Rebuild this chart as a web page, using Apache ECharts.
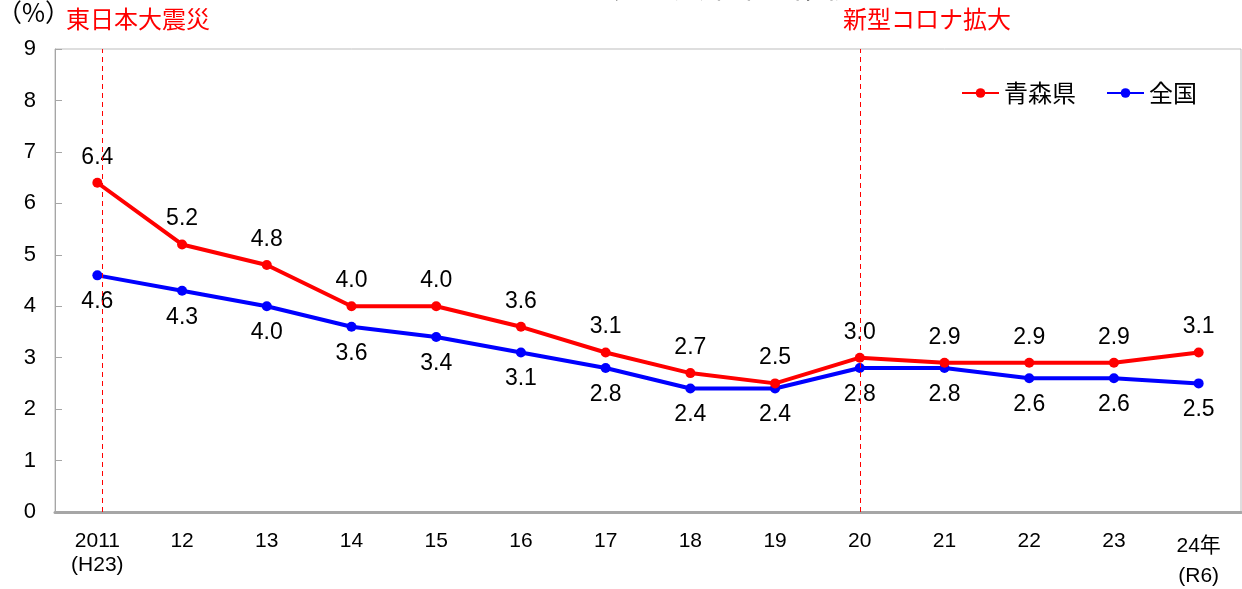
<!DOCTYPE html>
<html><head><meta charset="utf-8">
<script src="https://cdn.jsdelivr.net/npm/echarts@6/dist/echarts.min.js"></script>
<style>html,body{margin:0;padding:0;background:#fff}#c{width:1242px;height:589px}</style>
</head><body><div id="c"></div>
<script>
var categories = ['2011\n(H23)','12','13','14','15','16','17','18','19','20','21','22','23','24年\n(R6)'];
var aomori = [6.4, 5.2, 4.8, 4.0, 4.0, 3.6, 3.1, 2.7, 2.5, 3.0, 2.9, 2.9, 2.9, 3.1];
var zenkoku = [4.6, 4.3, 4.0, 3.6, 3.4, 3.1, 2.8, 2.4, 2.4, 2.8, 2.8, 2.6, 2.6, 2.5];
var seriesNames = ['青森県', '全国'];
var eventPos = [0.06, 9];   // category index positions of the event lines
var eventLabels = ['東日本大震災', '新型コロナ拡大'];
var yTicks = [0,1,2,3,4,5,6,7,8,9];

var FONT = "'Liberation Sans Narrow', 'Arial Narrow', 'Liberation Sans', 'Noto Sans CJK JP', sans-serif";
var JFONT = "'Noto Sans CJK JP', sans-serif";
var chart = echarts.init(document.getElementById('c'), null, {renderer:'canvas'});
chart.setOption({
  animation: false,
  backgroundColor: '#fff',
  textStyle: {fontFamily: FONT},
  grid: {left: 55, right: 1, top: 49, bottom: 74, show: true, borderColor: '#bdbdbd', borderWidth: 1},
  legend: {
    left: 956, top: 76, itemWidth: 37, itemHeight: 12, itemGap: 30,
    textStyle: {fontSize: 24, color: '#000', fontFamily: JFONT},
    data: seriesNames
  },
  xAxis: [{
    type: 'category', data: categories, boundaryGap: true,
    axisLine: {lineStyle: {color: '#a6a6a6', width: 3}},
    axisTick: {show: false},
    axisLabel: {
      color: '#000', fontSize: 21, margin: 17, lineHeight: 24, interval: 0, fontFamily: FONT,
      formatter: function (v, i) {
        if (i === categories.length - 1) { var p = v.split('\n'); return '{a|' + p[0] + '}\n{b|' + p[1] + '}'; }
        return v;
      },
      rich: {
        a: {fontSize: 21, lineHeight: 34, color: '#000', fontFamily: FONT},
        b: {fontSize: 21, lineHeight: 26, color: '#000', fontFamily: FONT}
      }
    }
  }, {
    type: 'value', show: false, min: -0.5, max: categories.length - 0.5,
    splitLine: {show: false}
  }],
  yAxis: {
    type: 'value', min: yTicks[0], max: yTicks[yTicks.length-1], interval: 1,
    axisLine: {show: true, onZero: false, lineStyle: {color: '#a6a6a6', width: 1}},
    axisTick: {show: true, inside: true, length: 7, lineStyle: {color: '#a6a6a6'}},
    splitLine: {show: false},
    axisLabel: {color: '#000', fontSize: 22, margin: 19, fontFamily: FONT}
  },
  graphic: [
    {type: 'text', left: -3, top: 0, style: {text: '（%）', fill: '#000', fontSize: 25, fontFamily: JFONT}},
    {type: 'text', left: 66, top: 7, style: {text: eventLabels[0], fill: '#ff0000', fontSize: 24, fontFamily: JFONT}},
    {type: 'text', left: 843, top: 7, style: {text: eventLabels[1], fill: '#ff0000', fontSize: 24, fontFamily: JFONT}},
    {type: 'text', left: 614, top: -29, style: {text: '完全失業率の推移', fill: '#000', fontSize: 30, fontFamily: JFONT}}
  ],
  series: [
    {
      name: seriesNames[0], type: 'line', data: aomori, z: 3,
      symbol: 'circle', symbolSize: 10,
      itemStyle: {color: '#ff0000'}, lineStyle: {color: '#ff0000', width: 4},
      label: {show: true, position: 'top', distance: 9, fontSize: 23, color: '#000', fontFamily: FONT,
        formatter: function (p) { return p.value.toFixed(1); }}
    },
    {
      name: seriesNames[1], type: 'line', data: zenkoku, z: 2,
      symbol: 'circle', symbolSize: 10,
      itemStyle: {color: '#0000ff'}, lineStyle: {color: '#0000ff', width: 4},
      label: {show: true, position: 'bottom', distance: 10, fontSize: 23, color: '#000', fontFamily: FONT,
        formatter: function (p) { return p.value.toFixed(1); }}
    },
    {
      name: 'events', type: 'line', xAxisIndex: 1, data: [], z: 1, silent: true,
      markLine: {
        silent: true, symbol: 'none', animation: false,
        lineStyle: {color: '#ff0000', type: [5, 4], width: 1, opacity: 1},
        label: {show: false},
        data: eventPos.map(function (x) { return {xAxis: x}; })
      }
    }
  ]
});
</script></body></html>
